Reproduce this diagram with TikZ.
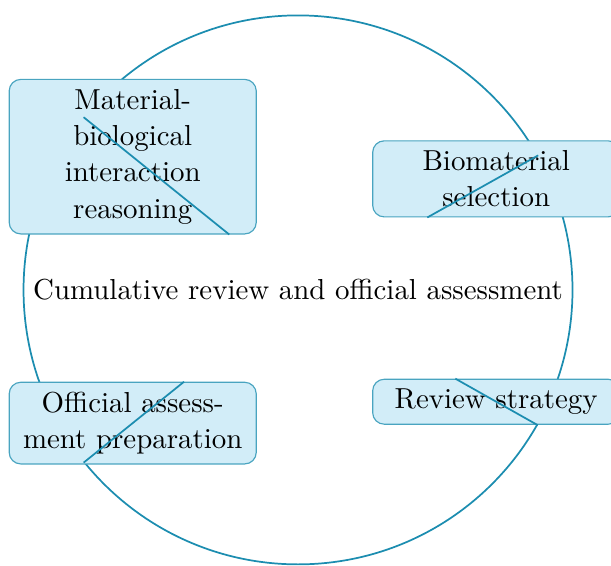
\documentclass[tikz,border=0pt]{standalone}
\usepackage{tikz}
\usetikzlibrary{positioning}

\definecolor{ringblue}{RGB}{28,141,176}
\definecolor{boxfill}{RGB}{210,237,248}

\begin{document}
\begin{tikzpicture}[
        stagebox/.style={draw=ringblue!80, fill=boxfill, rounded corners=4pt, text width=2.77cm, align=center, font=\fontsize{10pt}{12.6pt}\selectfont},
        link/.style={ringblue, semithick}
    ]
        \useasboundingbox (-3.624,-3.346) rectangle (3.806,3.525);

        \node[circle, draw=ringblue, semithick] (hub) at (0,0) {Cumulative review and official assessment};

        \node[stagebox] (reason) at (-2.01,1.62) {Material-biological interaction reasoning};
        \node[stagebox] (select) at (2.41,1.35) {Biomaterial selection};
        \node[stagebox] (prep) at (-2.01,-1.62) {Official assess\-ment preparation};
        \node[stagebox] (strategy) at (2.41,-1.36) {Review strategy};

        \draw[link] (hub) -- (reason);
        \draw[link] (hub) -- (select);
        \draw[link] (hub) -- (prep);
        \draw[link] (hub) -- (strategy);
    \end{tikzpicture}
\end{document}
